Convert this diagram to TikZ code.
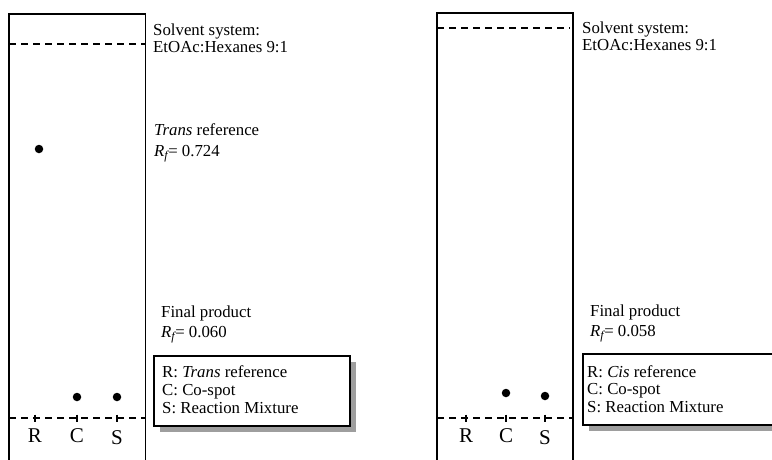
\documentclass[tikz,border=0pt]{standalone}
\usepackage{fontspec}
\setmainfont{Liberation Serif}
\usetikzlibrary{shadows}
\newcommand{\rfval}[1]{\textit{R}\raisebox{-3.5pt}{\fontsize{12}{12}\selectfont\itshape f}\kern0.5pt= #1}
\tikzset{
  plate/.style={draw, line width=1.9pt},
  front/.style={dash pattern=on 7pt off 5pt, line width=1.5pt},
  spot/.style={circle, fill=black, inner sep=0pt, minimum size=8.5pt},
  lbl/.style={anchor=base west, inner sep=0pt, font=\fontsize{16.8}{18}\selectfont},
  lane/.style={anchor=center, inner sep=0pt, font=\fontsize{21}{22}\selectfont},
  legbox/.style={draw, line width=1.7pt, fill=white, anchor=north west, inner sep=0pt,
    drop shadow={shadow xshift=6pt, shadow yshift=-6pt, fill=black!38, opacity=1}},
  tickmark/.style={line width=1.3pt}
}
\begin{document}
\begin{tikzpicture}[x=1pt,y=-1pt]
\useasboundingbox (0,0) rectangle (772,459);
\clip (0,0) rectangle (772,459);

% ---------- left plate ----------
\draw[plate] (9,480) -- (9,14) -- (145.5,14) -- (145.5,480);
\draw[front] (9,44) -- (145.5,44);
\draw[front] (9,418) -- (145.5,418);
\foreach \x in {35,77,117} \draw[tickmark] (\x,414.5) -- (\x,421.5);
\node[lane] (lR) at (35,436) {R};
\node[lane] (lC) at (77,436) {C};
\node[lane] (lS) at (117,438) {S};
\node[spot] (ltrans) at (39,149) {};
\node[spot] (lc) at (77,397) {};
\node[spot] (ls) at (117,397) {};

\node[lbl] (lsolv1) at (153,35) {Solvent system:};
\node[lbl] (lsolv2) at (153,52) {EtOAc:Hexanes 9:1};
\node[lbl] (lref1) at (154,135) {\textit{Trans} reference};
\node[lbl] (lref2) at (154,156) {\rfval{0.724}};
\node[lbl] (lfp1) at (161,317) {Final product};
\node[lbl] (lfp2) at (161,337) {\rfval{0.060}};

\node[legbox, minimum width=196pt, minimum height=70pt] (lleg) at (153,355) {};
\node[lbl] (lleg1) at (162,377) {R: \textit{Trans} reference};
\node[lbl] (lleg2) at (162,395) {C: Co-spot};
\node[lbl] (lleg3) at (162,413) {S: Reaction Mixture};

% ---------- right plate ----------
\draw[plate] (437,480) -- (437,12.7) -- (573,12.7) -- (573,480);
\draw[front] (437,28) -- (570,28);
\draw[front] (437,418) -- (573,418);
\foreach \x in {466,506,545} \draw[tickmark] (\x,414.5) -- (\x,421.5);
\node[lane] (rR) at (466,436) {R};
\node[lane] (rC) at (506,436) {C};
\node[lane] (rS) at (545,438) {S};
\node[spot] (rc) at (506,393) {};
\node[spot] (rs) at (545,396) {};

\node[lbl] (rsolv1) at (582,33) {Solvent system:};
\node[lbl] (rsolv2) at (582,50) {EtOAc:Hexanes 9:1};
\node[lbl] (rfp1) at (590,316) {Final product};
\node[lbl] (rfp2) at (590,336) {\rfval{0.058}};

\node[legbox, minimum width=220pt, minimum height=71pt] (rleg) at (582,353) {};
\node[lbl] (rleg1) at (587,377) {R: \textit{Cis} reference};
\node[lbl] (rleg2) at (587,394) {C: Co-spot};
\node[lbl] (rleg3) at (587,412) {S: Reaction Mixture};
\end{tikzpicture}
\end{document}
